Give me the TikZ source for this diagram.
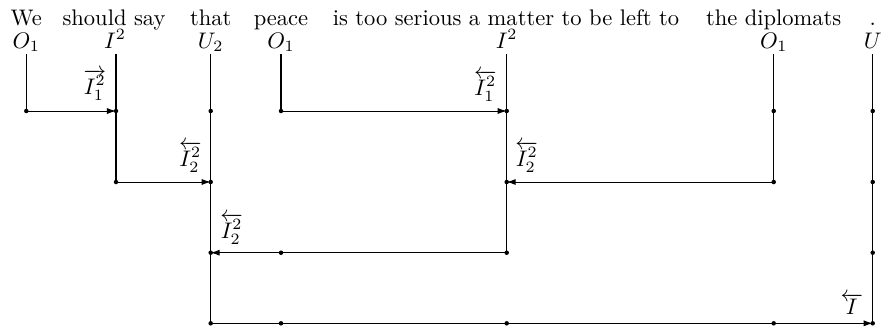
\documentclass[tikz,border=0pt]{standalone}
\usetikzlibrary{arrows.meta}
\begin{document}
\begin{tikzpicture}[x=0.444pt,y=-0.444pt,
  word/.style={anchor=base,inner sep=0pt},
  ty/.style={anchor=base,inner sep=0pt},
  wire/.style={line width=0.45pt},
  arr/.style={wire,-{Latex[length=4pt,width=2.7pt]}},
  lab/.style={inner sep=0pt},
  pt/.style={circle,fill,inner sep=0pt,minimum size=2pt}]
\useasboundingbox (0,0) rectangle (881,327);
% words
\node[word] (w1) at (26.3,25.5) {We};
\node[word] (w2) at (114,25.5) {should say};
\node[word] (w3) at (210.7,25.5) {that};
\node[word] (w4) at (281,25.5) {peace};
\node[word] (w5) at (506,25.5) {is too serious a matter to be left to};
\node[word] (w6) at (773.7,25.5) {the diplomats};
\node[word] (w7) at (872.7,25.5) {.};
% types
\node[ty] (t1) at (26.3,48) {$O_1$};
\node[ty] (t2) at (115,48) {$I^2$};
\node[ty] (t3) at (210.7,48) {$U_2$};
\node[ty] (t4) at (281,48) {$O_1$};
\node[ty] (t5) at (506.7,48) {$I^2$};
\node[ty] (t6) at (773.7,48) {$O_1$};
\node[ty] (t7) at (872.7,48) {$U$};
% grid coordinates
\foreach \c/\x in {1/26.3,2/116,3/210.7,4/281,5/506.7,6/773.7,7/872.7}{
  \foreach \l/\y in {0/54,1/111,2/182,3/252.7,4/323.3}{
    \coordinate (p\c-\l) at (\x,\y);
  }
}
% vertical wires
\draw[wire] (p1-0) -- (p1-1);
\draw[wire] (p2-0) -- (p2-2);
\draw[wire] (p3-0) -- (p3-4);
\draw[wire] (p4-0) -- (p4-1);
\draw[wire] (p5-0) -- (p5-3);
\draw[wire] (p6-0) -- (p6-2);
\draw[wire] (p7-0) -- (p7-4);
% horizontal reductions
\draw[arr] (p1-1) -- (p2-1);
\draw[arr] (p4-1) -- (p5-1);
\draw[arr] (p2-2) -- (p3-2);
\draw[arr] (p6-2) -- (p5-2);
\draw[arr] (p5-3) -- (p3-3);
\draw[arr] (p3-4) -- (p7-4);
% dots
\foreach \p in {1-1,2-1,3-1,4-1,5-1,6-1,7-1,
                2-2,3-2,5-2,6-2,7-2,
                3-3,4-3,5-3,7-3,
                3-4,4-4,5-4,6-4,7-4}{
  \node[pt] at (p\p) {};
}
% labels
\node[lab,anchor=south east] (l1) at (106.5,100.5) {$\overrightarrow{I_1^2}$};
\node[lab,anchor=south east] (l2) at (497,102) {$\overleftarrow{I_1^2}$};
\node[lab,anchor=south east] (l3) at (202,173) {$\overleftarrow{I_2^2}$};
\node[lab,anchor=south west] (l4) at (515,173) {$\overleftarrow{I_2^2}$};
\node[lab,anchor=south west] (l5) at (220,245) {$\overleftarrow{I_2^2}$};
\node[lab,anchor=south east] (l6) at (863.5,315) {$\overleftarrow{I}$};
\end{tikzpicture}
\end{document}
